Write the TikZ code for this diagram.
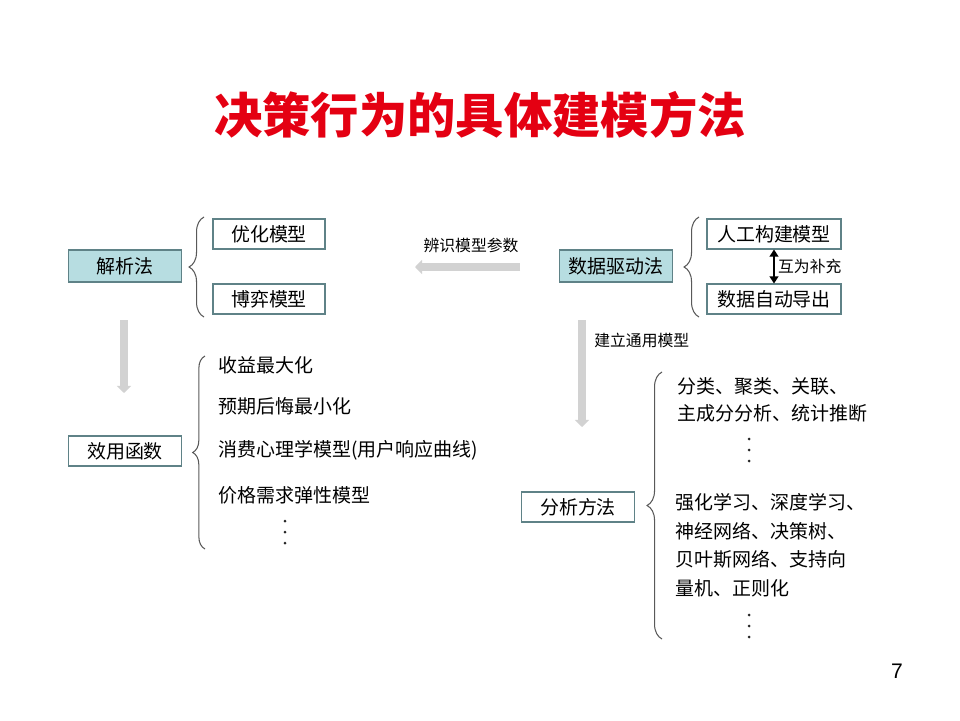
\documentclass[tikz,border=0pt]{standalone}
\usepackage{fontspec}
\setmainfont{Noto Sans CJK SC}
\newfontfamily\pagefont{Liberation Sans}
\usetikzlibrary{arrows.meta, decorations.pathreplacing}
\usepackage{xcolor}
\definecolor{titleRed}{RGB}{228, 0, 18}
\definecolor{boxFill}{RGB}{183, 221, 225}
\definecolor{boxLine}{RGB}{95, 130, 135}
\definecolor{flowGray}{RGB}{210, 210, 210}

\begin{document}
\begin{tikzpicture}[x=0.02cm, y=-0.02cm,
    bodyfont/.style={font=\fontsize{10.8}{13}\selectfont},
    methodbox/.style={bodyfont, draw=boxLine, fill=boxFill, line width=0.6pt,
      minimum width=2.26cm, minimum height=0.64cm, inner sep=0},
    subbox/.style={bodyfont, draw=boxLine, line width=0.6pt,
      minimum width=2.24cm, minimum height=0.6cm, inner sep=0},
    item/.style={bodyfont, anchor=west, inner sep=0},
    note/.style={font=\fontsize{9}{11}\selectfont, inner sep=0},
    bigarrow/.style={flowGray, line width=4.5pt, -{Triangle[length=4pt, width=8pt]}},
    curly/.style={decorate, decoration={brace, amplitude=#1}, draw=black!65, line width=0.6pt}]
  \useasboundingbox (0,0) rectangle (960,720);

  % --- Title ---
  \node[font=\fontsize{27.5}{32}\selectfont\bfseries, text=titleRed] (title) at (480,115) {决策行为的具体建模方法};

  % --- Analytic side ---
  \node[methodbox] (analytic) at (125,266) {解析法};
  \node[subbox] (optim) at (269,234) {优化模型};
  \node[subbox] (game) at (269,299) {博弈模型};
  \draw[curly=8.5pt] (204,317) -- (204,217);

  \coordinate (downA1) at (124,320);
  \coordinate (downA2) at (124,393);
  \draw[bigarrow] (downA1) -- (downA2);

  \node[subbox, minimum width=2.26cm] (utility) at (125,451) {效用函数};
  \draw[curly=7pt] (205,549) -- (205,356);
  \node[item] (util1) at (218,365) {收益最大化};
  \node[item] (util2) at (218,406) {预期后悔最小化};
  \node[item] (util3) at (218,450) {消费心理学模型(用户响应曲线)};
  \node[item] (util4) at (218,495) {价格需求弹性模型};

  % --- Data-driven side ---
  \node[methodbox] (datadriven) at (616,266) {数据驱动法};
  \node[subbox, minimum width=2.68cm] (manual) at (774,234) {人工构建模型};
  \node[subbox, minimum width=2.68cm] (auto) at (774,299) {数据自动导出};
  \draw[curly=8.5pt] (699,317) -- (699,217);
  \draw[{Triangle[length=4pt, width=5pt]}-{Triangle[length=4pt, width=5pt]}, line width=0.7pt]
    (manual.south) -- (auto.north) node[midway, right=2pt, note] (mutual) {互为补充};

  \coordinate (leftA1) at (520,267);
  \coordinate (leftA2) at (415,267);
  \draw[bigarrow] (leftA1) -- (leftA2);
  \node[note] (identify) at (471,245) {辨识模型参数};

  \coordinate (downB1) at (582,320);
  \coordinate (downB2) at (582,427);
  \draw[bigarrow] (downB1) -- (downB2);
  \node[note, anchor=west] (general) at (594,340) {建立通用模型};

  \node[subbox, minimum width=2.26cm] (analysis) at (578,507) {分析方法};
  \draw[curly=8.5pt] (662,639) -- (662,372);
  \node[item] (ana1) at (677,386) {分类、聚类、关联、};
  \node[item] (ana2) at (677,413) {主成分分析、统计推断};
  \node[item] (ana3) at (675,502) {强化学习、深度学习、};
  \node[item] (ana4) at (675,531) {神经网络、决策树、};
  \node[item] (ana5) at (675,559) {贝叶斯网络、支持向};
  \node[item] (ana6) at (675,588) {量机、正则化};

  % vertical ellipses
  \foreach \x/\y in {285/532, 749/450, 749/626}
    \foreach \d in {-11,0,11}
      \fill[black!85] (\x,\y+\d) circle (1.5);

  % --- Page number ---
  \node[font=\pagefont\fontsize{12}{14}\selectfont] (pageno) at (897,671) {7};
\end{tikzpicture}
\end{document}
